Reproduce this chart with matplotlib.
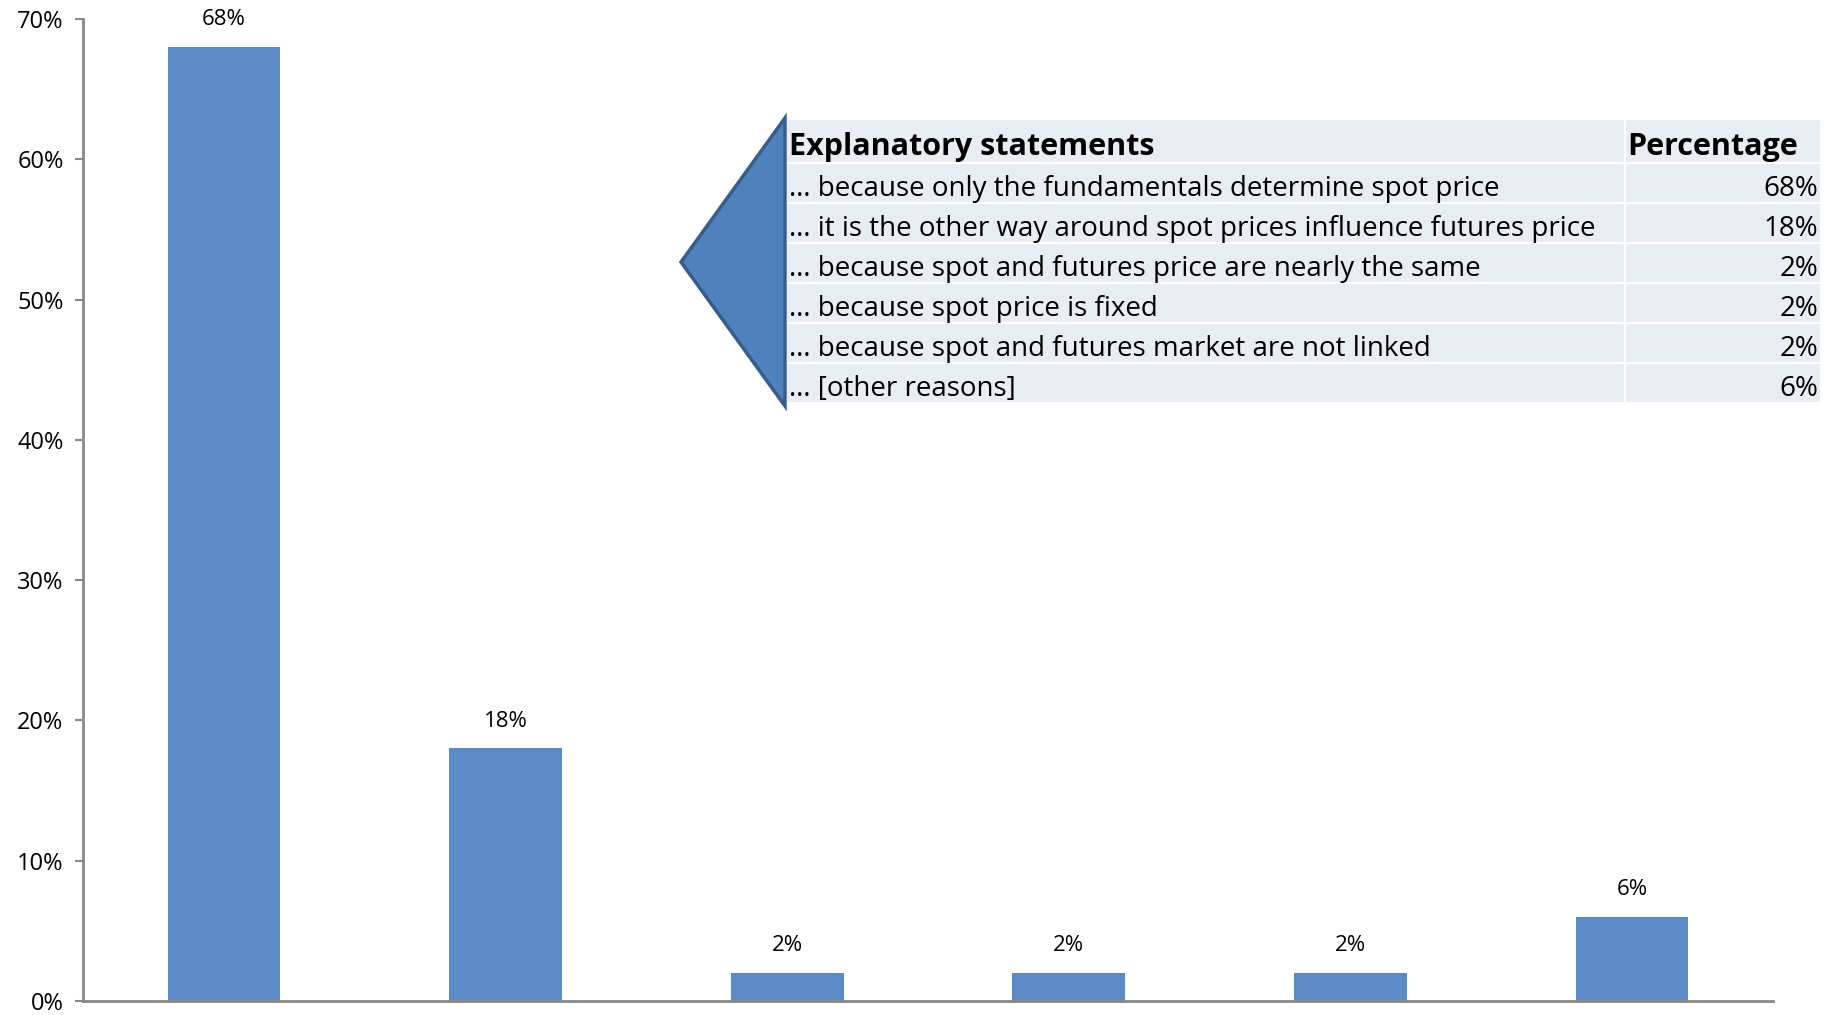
import matplotlib.pyplot as plt
from matplotlib.patches import Rectangle, Polygon
from matplotlib.ticker import PercentFormatter

# ── Data ─────────────────────────────────────────────────────────────────────
statements = [
    "… because only the fundamentals determine spot price",
    "… it is the other way around spot prices influence futures price",
    "… because spot and futures price are nearly the same",
    "… because spot price is fixed",
    "… because spot and futures market are not linked",
    "… [other reasons]",
]
shares = [0.68, 0.18, 0.02, 0.02, 0.02, 0.06]
share_labels = ["68%", "18%", "2%", "2%", "2%", "6%"]

W, H = 1833, 1015
BAR_COLOR = "#5B8BC7"
ROW_COLOR = "#E8ECF3"
FONT = ["Open Sans", "DejaVu Sans"]

plt.rcParams["font.family"] = FONT

fig = plt.figure(figsize=(W / 100, H / 100), dpi=100)


def fx(px):
    return px / W


def fy(py):
    return 1 - py / H


# ── Bar chart ────────────────────────────────────────────────────────────────
ax = fig.add_axes([fx(83), fy(1001), fx(1773) - fx(83), fy(19) - fy(1001)])
x = range(len(shares))
bars = ax.bar(x, shares, width=0.4, color=BAR_COLOR)
for bar, lab in zip(bars, share_labels):
    ax.text(bar.get_x() + bar.get_width() / 2, bar.get_height() + 0.012, lab,
            ha="center", va="bottom", fontsize=16)

ax.set_xlim(-0.5, len(shares) - 0.5)
ax.set_ylim(0, 0.7)
ax.set_yticks([i / 10 for i in range(8)])
ax.yaxis.set_major_formatter(PercentFormatter(1.0, decimals=0))
ax.set_xticks([])
ax.tick_params(axis="y", length=6, width=1.5, color="#888888", labelsize=17, pad=8)
for s in ["top", "right"]:
    ax.spines[s].set_visible(False)
for s in ["left", "bottom"]:
    ax.spines[s].set_color("#888888")
    ax.spines[s].set_linewidth(2)

# ── Callout arrow + table ────────────────────────────────────────────────────
tip = Polygon([[fx(681), fy(262)], [fx(785), fy(118)], [fx(785), fy(406)]],
              closed=True, transform=fig.transFigure, facecolor="#4F81BD",
              edgecolor="#385D8A", linewidth=2.5, zorder=3)
fig.patches.append(tip)

left, divider, right = 787, 1625, 1820
row_edges = [119, 163, 203, 243, 283, 323, 363, 403]
header = ["Explanatory statements", "Percentage"]

for i in range(len(row_edges) - 1):
    top, bot = row_edges[i] + 1, row_edges[i + 1] - 1
    for x0, x1 in [(left, divider - 1), (divider + 1, right)]:
        fig.patches.append(Rectangle((fx(x0), fy(bot)), fx(x1) - fx(x0), fy(top) - fy(bot),
                                     transform=fig.transFigure, facecolor=ROW_COLOR,
                                     edgecolor="none", zorder=2))
    ymid = fy((top + bot) / 2 + 6)
    if i == 0:
        fig.text(fx(left + 2), ymid, header[0], fontsize=22, fontweight="bold", va="center")
        fig.text(fx(divider + 2), ymid, header[1], fontsize=22, fontweight="bold", va="center")
    else:
        fig.text(fx(left + 2), ymid, statements[i - 1], fontsize=20, va="center")
        fig.text(fx(right - 2), ymid, share_labels[i - 1], fontsize=20, va="center", ha="right")

fig.savefig("out.png", dpi=100)
